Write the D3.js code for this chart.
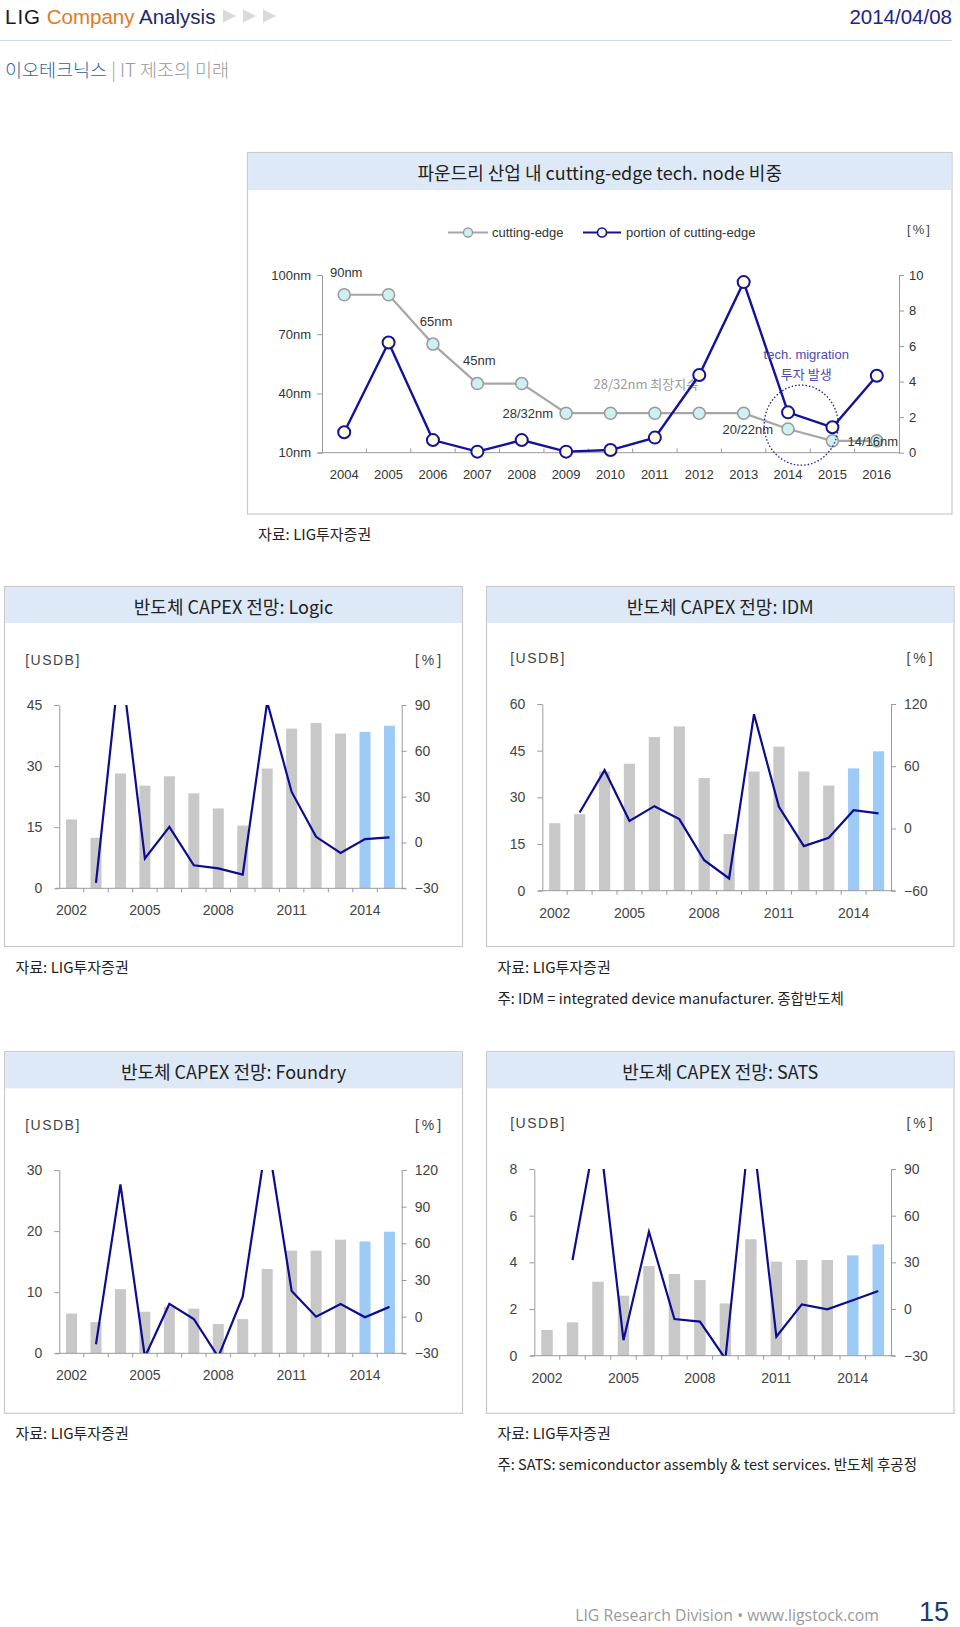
<!DOCTYPE html>
<html><head><meta charset="utf-8">
<script src="https://cdn.jsdelivr.net/npm/d3@7"></script>
<style>
body{margin:0;background:#fff;}
svg{display:block;}
</style></head><body>
<svg id="c" width="960" height="1627"></svg>
<script>
// ---------------- DATA ----------------
// Top chart: cutting-edge node in foundry industry
const nodeYears = ["2004","2005","2006","2007","2008","2009","2010","2011","2012","2013","2014","2015","2016"];
const cuttingEdgeNm = [90,90,65,45,45,30,30,30,30,30,22,16,16];
const cuttingEdgePortion = [1.15,6.2,0.71,0.06,0.71,0.06,0.15,0.85,4.37,9.6,2.27,1.43,4.33];
const nodeAxisTicks = [10,40,70,100];
const portionAxisTicks = [0,2,4,6,8,10];
const nodeLabels = [
  {year:"2004", text:"90nm"},
  {year:"2006", text:"65nm"},
  {year:"2007", text:"45nm"},
  {year:"2009", text:"28/32nm"},
  {year:"2014", text:"20/22nm"},
  {year:"2015", text:"14/16nm"}
];

// CAPEX charts
const capexYears = ["2002","2003","2004","2005","2006","2007","2008","2009","2010","2011","2012","2013","2014","2015"];
const capexYearTicks = ["2002","2005","2008","2011","2014"];
const forecastYears = ["2014","2015"];

const logicCapex  = [16.9,12.4,28.2,25.2,27.5,23.3,19.6,15.4,29.4,39.2,40.6,38.0,38.4,39.9];
const logicGrowth = [null,-26.4,122,-10.5,10.2,-14.9,-17,-21,92,33.1,3.7,-6.8,2.2,3.3];
const logicLeftTicks = [0,15,30,45];
const logicRightTicks = [-30,0,30,60,90];

const idmCapex  = [21.7,24.6,38.3,40.8,49.4,52.8,36.2,18.2,38.3,46.3,38.3,33.8,39.3,44.8];
const idmGrowth = [null,15.4,56.2,7.3,21.5,9,-30.6,-48.2,110.2,20.8,-17,-9,17.6,14.5];
const idmLeftTicks = [0,15,30,45,60];
const idmRightTicks = [-60,0,60,120];

const foundryCapex  = [6.5,5.1,10.5,6.8,7.6,7.3,4.8,5.6,13.8,16.8,16.8,18.6,18.3,19.9];
const foundryGrowth = [null,-22.6,108.3,-33,10.4,-1.9,-33,16.4,148,21,0,10.4,-0.5,8];
const foundryLeftTicks = [0,10,20,30];
const foundryRightTicks = [-30,0,30,60,90,120];

const satsCapex  = [1.1,1.43,3.17,2.57,3.84,3.5,3.24,2.24,4.99,4.03,4.1,4.1,4.3,4.77];
const satsGrowth = [null,31.5,121,-20,49.7,-6.4,-8.1,-32,124,-17.8,3,-0.2,5.6,11.6];
const satsLeftTicks = [0,2,4,6,8];
const satsRightTicks = [-30,0,30,60,90];

// ---------------- DRAWING ----------------
const svg = d3.select("#c");
const KR = "'Noto Sans CJK KR','Noto Sans',sans-serif";
const LAT = "'Liberation Sans',Arial,sans-serif";

function txt(x,y,s,opt={}){
  const t = svg.append("text").attr("x",x).attr("y",y)
    .attr("dominant-baseline","central")
    .attr("text-anchor",opt.anchor||"start")
    .attr("font-family",opt.font||KR)
    .attr("font-size",opt.size||15)
    .attr("fill",opt.fill||"#222");
  if(opt.ls) t.attr("letter-spacing",opt.ls);
  if(opt.weight) t.attr("font-weight",opt.weight);
  t.text(s);
  return t;
}

// Header
const h = svg.append("text").attr("x",5).attr("y",16).attr("dominant-baseline","central")
  .attr("font-family",LAT).attr("font-size",20.5);
h.append("tspan").attr("fill","#1a1a1a").attr("letter-spacing",1).text("LIG");
h.append("tspan").attr("fill","#e27a1e").text(" Company");
h.append("tspan").attr("fill","#1f276e").text(" Analysis");
[0,1,2].forEach(i=>{
  const x0 = 223 + i*20;
  svg.append("path").attr("d",`M${x0},9.5 L${x0+13},16 L${x0},22.5 Z`).attr("fill","#dadada");
});
txt(952,16,"2014/04/08",{anchor:"end",font:LAT,size:20.5,fill:"#23238a"});
svg.append("line").attr("x1",0).attr("x2",952).attr("y1",40.5).attr("y2",40.5).attr("stroke","#cfd9e3").attr("stroke-width",1.2);
const sub = svg.append("text").attr("x",5).attr("y",69).attr("dominant-baseline","central")
  .attr("font-family",KR).attr("font-size",18.5).attr("font-weight",300);
sub.append("tspan").attr("fill","#2f5f9e").text("이오테크닉스");
sub.append("tspan").attr("fill","#9a9a9a").text(" | IT 제조의 미래");

function panel(x,y,w,hh,bandH,title){
  svg.append("rect").attr("x",x).attr("y",y).attr("width",w).attr("height",hh)
    .attr("fill","#fff").attr("stroke","#c9c9c9").attr("stroke-width",1.2);
  svg.append("rect").attr("x",x+0.6).attr("y",y+0.6).attr("width",w-1.2).attr("height",bandH)
    .attr("fill","#dde9f7");
  txt(x+w/2,y+bandH/2+1,title,{anchor:"middle",size:18,fill:"#222"});
}

function styleAxis(g){
  g.select(".domain").attr("stroke","#9a9a9a");
  g.selectAll(".tick line").attr("stroke","#9a9a9a");
  g.selectAll(".tick text").attr("font-family",LAT).attr("fill","#333");
}

// ---------- Top chart ----------
panel(247.5,152.5,704.5,361.5,37,"파운드리 산업 내 cutting-edge tech. node 비중");
{
  const tx = d3.scaleBand().domain(nodeYears).range([322,899]);
  const yL = d3.scaleLinear().domain([10,100]).range([452.7,275]);
  const yR = d3.scaleLinear().domain([0,10]).range([452.7,275]);
  const cx = d => tx(d)+tx.bandwidth()/2;

  const gl = svg.append("g").attr("transform","translate(322,0)")
    .call(d3.axisLeft(yL).tickValues(nodeAxisTicks).tickFormat(d=>d+"nm").tickSize(5).tickSizeOuter(0).tickPadding(6));
  styleAxis(gl); gl.selectAll(".tick text").attr("font-size",13);
  const gr = svg.append("g").attr("transform","translate(899,0)")
    .call(d3.axisRight(yR).tickValues(portionAxisTicks).tickSize(5).tickSizeOuter(0).tickPadding(5));
  styleAxis(gr); gr.selectAll(".tick text").attr("font-size",13);
  // x axis
  svg.append("line").attr("x1",318).attr("x2",899).attr("y1",452.7).attr("y2",452.7).attr("stroke","#9a9a9a");
  nodeYears.forEach((d,i)=>{
    if(i>0) svg.append("line").attr("x1",tx(d)).attr("x2",tx(d)).attr("y1",448.5).attr("y2",452.7).attr("stroke","#9a9a9a");
    txt(cx(d),474,d,{anchor:"middle",font:LAT,size:13,fill:"#333"});
  });

  // legend
  svg.append("line").attr("x1",448).attr("x2",488).attr("y1",232.5).attr("y2",232.5).attr("stroke","#a6a6a6").attr("stroke-width",2);
  svg.append("circle").attr("cx",468).attr("cy",232.5).attr("r",4.5).attr("fill","#cdf1f1").attr("stroke","#9a9a9a").attr("stroke-width",1.3);
  txt(492,232.5,"cutting-edge",{font:LAT,size:13,fill:"#333"});
  svg.append("line").attr("x1",583).attr("x2",621).attr("y1",232.5).attr("y2",232.5).attr("stroke","#12129c").attr("stroke-width",2);
  svg.append("circle").attr("cx",602).attr("cy",232.5).attr("r",4.5).attr("fill","#ffffe1").attr("stroke","#12129c").attr("stroke-width",1.6);
  txt(626,232.5,"portion of cutting-edge",{font:LAT,size:13,fill:"#333"});
  txt(919.5,229,"[%]",{anchor:"middle",font:LAT,size:13,fill:"#444",ls:2});

  // annotations (gray)
  txt(cx("2011")-9,yL(30)-30,"28/32nm 최장지속",{anchor:"middle",font:KR,size:13,fill:"#9a9a9a"});

  // cutting-edge gray line
  const lineL = d3.line().x((d,i)=>cx(nodeYears[i])).y(d=>yL(d));
  svg.append("path").attr("d",lineL(cuttingEdgeNm)).attr("fill","none").attr("stroke","#a6a6a6").attr("stroke-width",2.2);
  svg.selectAll(".ce").data(cuttingEdgeNm).enter().append("circle")
    .attr("cx",(d,i)=>cx(nodeYears[i])).attr("cy",d=>yL(d)).attr("r",6)
    .attr("fill","#cdf1f1").attr("stroke","#9a9a9a").attr("stroke-width",1.5);

  // portion blue line
  const lineR = d3.line().x((d,i)=>cx(nodeYears[i])).y(d=>yR(d));
  svg.append("path").attr("d",lineR(cuttingEdgePortion)).attr("fill","none").attr("stroke","#12129c").attr("stroke-width",2.4);
  svg.selectAll(".po").data(cuttingEdgePortion).enter().append("circle")
    .attr("cx",(d,i)=>cx(nodeYears[i])).attr("cy",d=>yR(d)).attr("r",6)
    .attr("fill","#ffffe1").attr("stroke","#12129c").attr("stroke-width",2);

  // node labels
  const nodeVal = y => cuttingEdgeNm[nodeYears.indexOf(y)];
  const labOff = {"90nm":[2,-22,"middle"],"65nm":[3,-23,"middle"],"45nm":[2,-23,"middle"],
                  "28/32nm":[-13,0,"end"],"20/22nm":[-15,0,"end"],"14/16nm":[15,1,"start"]};
  nodeLabels.forEach(l=>{
    const o = labOff[l.text];
    txt(cx(l.year)+o[0], yL(nodeVal(l.year))+o[1], l.text, {anchor:o[2],font:LAT,size:13,fill:"#333"});
  });

  // tech migration annotation
  const mx = (cx("2014")+cx("2015"))/2;
  svg.append("ellipse").attr("cx",mx-9).attr("cy",yR(1.55)).attr("rx",37).attr("ry",40)
    .attr("fill","none").attr("stroke","#1e1e9a").attr("stroke-width",1.3).attr("stroke-dasharray","1.5,2");
  txt(mx-4,yR(5.5),"tech. migration",{anchor:"middle",font:LAT,size:13,fill:"#4b4bab"});
  txt(mx-4,yR(4.45),"투자 발생",{anchor:"middle",font:KR,size:13,fill:"#4b4bab"});
}
txt(258,533,"자료: LIG투자증권",{size:15});

// ---------- CAPEX charts ----------
let clipId = 0;
function capex(cfg){
  panel(cfg.px,cfg.py,cfg.pw,cfg.ph,36,cfg.title);
  const x = d3.scaleBand().domain(capexYears).range([cfg.x0,cfg.x1]);
  const yL = d3.scaleLinear().domain(cfg.leftDomain).range([cfg.y1,cfg.y0]);
  const yR = d3.scaleLinear().domain(cfg.rightDomain).range([cfg.y1,cfg.y0]);
  const cx = d => x(d)+x.bandwidth()/2;
  const bw = x.bandwidth()*0.45;

  txt(cfg.ux,cfg.uy,"[USDB]",{anchor:"middle",font:LAT,size:14,fill:"#444",ls:1.5});
  txt(cfg.px+cfg.pw-33,cfg.uy,"[%]",{anchor:"middle",font:LAT,size:14,fill:"#444",ls:3});

  // bars
  svg.append("g").selectAll("rect").data(cfg.capex).enter().append("rect")
    .attr("x",(d,i)=>cx(capexYears[i])-bw/2).attr("width",bw)
    .attr("y",d=>yL(d)).attr("height",d=>yL(0)-yL(d))
    .attr("fill",(d,i)=>forecastYears.includes(capexYears[i])?"#9dcbf6":"#c8c8c8");

  // axes
  const gl = svg.append("g").attr("transform",`translate(${cfg.x0},0)`)
    .call(d3.axisLeft(yL).tickValues(cfg.leftTicks).tickSize(5).tickSizeOuter(0).tickPadding(12));
  styleAxis(gl); gl.selectAll(".tick text").attr("font-size",14).attr("fill","#444");
  const gr = svg.append("g").attr("transform",`translate(${cfg.x1},0)`)
    .call(d3.axisRight(yR).tickValues(cfg.rightTicks).tickFormat(d=>d<0?"\u2212"+(-d):d).tickSize(5).tickSizeOuter(0).tickPadding(8));
  styleAxis(gr); gr.selectAll(".tick text").attr("font-size",14).attr("fill","#444");
  svg.append("line").attr("x1",cfg.x0-4).attr("x2",cfg.x1+4).attr("y1",cfg.y1).attr("y2",cfg.y1).attr("stroke","#9a9a9a");
  capexYears.forEach((d,i)=>{
    if(i>0) svg.append("line").attr("x1",x(d)).attr("x2",x(d)).attr("y1",cfg.y1).attr("y2",cfg.y1+4).attr("stroke","#9a9a9a");
  });
  capexYearTicks.forEach(d=>txt(cx(d),cfg.y1+22,d,{anchor:"middle",font:LAT,size:14,fill:"#444"}));

  // growth line, clipped to plot area
  const id = "clip"+(clipId++);
  svg.append("clipPath").attr("id",id).append("rect")
    .attr("x",cfg.x0).attr("y",cfg.y0).attr("width",cfg.x1-cfg.x0).attr("height",cfg.y1-cfg.y0);
  const line = d3.line().defined(d=>d!==null).x((d,i)=>cx(capexYears[i])).y(d=>yR(d));
  svg.append("path").attr("clip-path",`url(#${id})`).attr("d",line(cfg.growth))
    .attr("fill","none").attr("stroke","#0c0c92").attr("stroke-width",2.2).attr("stroke-linejoin","miter");

  txt(cfg.px+11,cfg.py+cfg.ph+19.5,"자료: LIG투자증권",{size:15});
  if(cfg.note) txt(cfg.px+11,cfg.py+cfg.ph+50.5,cfg.note,{size:14.5});
}

capex({title:"반도체 CAPEX 전망: Logic",px:4.5,py:586.5,pw:458,ph:360,
  x0:59.3,x1:401.7,y0:705,y1:888.3,ux:53,uy:660,
  capex:logicCapex,growth:logicGrowth,leftDomain:[0,45],rightDomain:[-30,90],
  leftTicks:logicLeftTicks,rightTicks:logicRightTicks});
capex({title:"반도체 CAPEX 전망: IDM",px:486.5,py:586.5,pw:467.5,ph:360,
  x0:542.3,x1:891,y0:704,y1:890.7,ux:538,uy:658,
  capex:idmCapex,growth:idmGrowth,leftDomain:[0,60],rightDomain:[-60,120],
  leftTicks:idmLeftTicks,rightTicks:idmRightTicks,
  note:"주: IDM = integrated device manufacturer. 종합반도체"});
capex({title:"반도체 CAPEX 전망: Foundry",px:4.5,py:1051.7,pw:458,ph:361.6,
  x0:59.3,x1:401.7,y0:1170,y1:1353.3,ux:53,uy:1125,
  capex:foundryCapex,growth:foundryGrowth,leftDomain:[0,30],rightDomain:[-30,120],
  leftTicks:foundryLeftTicks,rightTicks:foundryRightTicks});
capex({title:"반도체 CAPEX 전망: SATS",px:486.5,py:1051.7,pw:467.5,ph:361.6,
  x0:534.3,x1:891,y0:1169,y1:1355.7,ux:538,uy:1123,
  capex:satsCapex,growth:satsGrowth,leftDomain:[0,8],rightDomain:[-30,90],
  leftTicks:satsLeftTicks,rightTicks:satsRightTicks,
  note:"주: SATS: semiconductor assembly & test services. 반도체 후공정"});

// Footer
txt(879,1615,"LIG Research Division  •  www.ligstock.com",{anchor:"end",font:"'Open Sans',sans-serif",size:15.8,fill:"#9a9a9a"});
txt(934,1612,"15",{anchor:"middle",font:LAT,size:27,fill:"#1d3c6e"});
</script>
</body></html>
